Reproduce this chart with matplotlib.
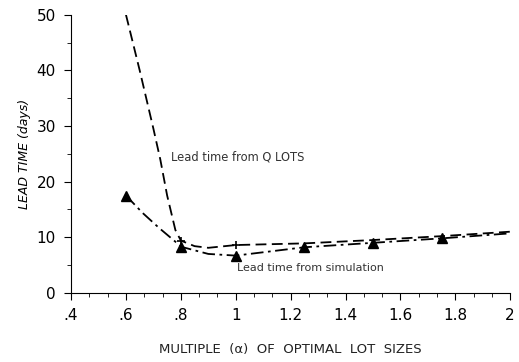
import matplotlib
matplotlib.use("Agg")
import matplotlib.pyplot as plt
from matplotlib.ticker import MultipleLocator, FixedLocator

# values
q_x = [0.60, 0.65, 0.70, 0.725, 0.75, 0.78, 0.80, 0.85, 0.90, 1.00, 1.25, 1.50, 1.75, 2.00]
q_y = [50.0, 40.0, 29.5, 24.0, 17.5, 11.3, 9.4, 8.4, 8.1, 8.6, 8.9, 9.5, 10.2, 11.0]

sim_x = [0.60, 0.66, 0.72, 0.78, 0.80, 0.90, 1.00, 1.10, 1.25, 1.50, 1.75, 2.00]
sim_y = [17.5, 14.4, 11.7, 9.2, 8.3, 7.0, 6.7, 7.3, 8.2, 9.0, 9.8, 10.7]

tri_x = [0.60, 0.80, 1.00, 1.25, 1.50, 1.75]
tri_y = [17.5, 8.3, 6.7, 8.2, 9.0, 9.8]

plus_x = [0.80, 1.00]
plus_y = [9.4, 8.6]

xticks = [0.4, 0.6, 0.8, 1.0, 1.2, 1.4, 1.6, 1.8, 2.0]
xlabels = [".4", ".6", ".8", "1", "1.2", "1.4", "1.6", "1.8", "2"]
yticks = [0, 10, 20, 30, 40, 50]

fig = plt.figure(figsize=(5.19, 3.62), dpi=100)
ax = fig.add_axes([0.137, 0.191, 0.846, 0.768])

ax.plot(q_x, q_y, color="black", lw=1.3, linestyle=(0, (6, 3)))
ax.plot(plus_x, plus_y, "+", color="black", ms=6, mew=1.2)
ax.plot(sim_x, sim_y, color="black", lw=1.3, linestyle=(0, (7, 2.5, 1.5, 2.5)))
ax.plot(tri_x, tri_y, "^", color="black", ms=7)

ax.text(0.765, 24.5, "Lead time from Q LOTS", fontsize=8.3, va="center", color="#333333")
ax.text(1.005, 4.5, "Lead time from simulation", fontsize=8, va="center", color="#333333")

ax.set_xlim(0.4, 2.0)
ax.set_ylim(0, 50)
ax.xaxis.set_major_locator(FixedLocator(xticks))
ax.set_xticklabels(xlabels)
ax.xaxis.set_minor_locator(MultipleLocator(0.2 / 3))
ax.set_yticks(yticks)
ax.yaxis.set_minor_locator(MultipleLocator(5))

ax.spines["top"].set_visible(False)
ax.spines["right"].set_visible(False)
ax.tick_params(which="major", length=5, labelsize=11, pad=6)
ax.tick_params(which="minor", length=3)

ax.set_ylabel("LEAD TIME (days)", fontsize=9, style="italic", labelpad=4)
ax.set_xlabel("MULTIPLE  (\u03b1)  OF  OPTIMAL  LOT  SIZES", fontsize=9.5,
              labelpad=14, color="#222222")

fig.savefig("out.png", dpi=100)
